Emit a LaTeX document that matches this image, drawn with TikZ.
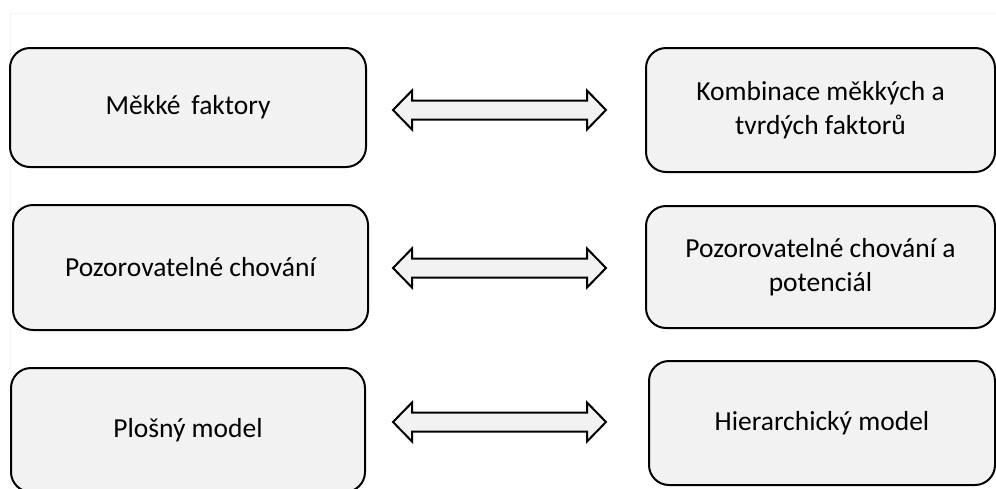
\documentclass[tikz,border=0pt]{standalone}
\usepackage{fontspec}
\setmainfont{Carlito}
\definecolor{boxfill}{HTML}{F2F2F2}
\definecolor{framegray}{HTML}{F4F4F4}
\begin{document}
\begin{tikzpicture}[x=1pt,y=-1pt,
  box/.style={draw=black, line width=2pt, fill=boxfill, rounded corners=20pt,
    align=center, inner sep=0pt, font=\fontsize{27.5}{34}\selectfont},
  arrowshape/.style={draw=black, line width=2pt, fill=boxfill, line join=miter},
  dblarr/.pic={
    \path[arrowshape] (-106.5,0) -- (-87.5,-19.5) -- (-87.5,-9.5) -- (87.5,-9.5)
      -- (87.5,-19.5) -- (106.5,0) -- (87.5,19.5) -- (87.5,9.5) -- (-87.5,9.5)
      -- (-87.5,19.5) -- cycle;
  }
]
\useasboundingbox (0,0) rectangle (996,488);
\draw[framegray, line width=1pt] (10,500) -- (10,13) -- (1010,13);
\node[box, minimum width=356pt, minimum height=119pt] (l1) at (188,107.5) {Měkké\, faktory};
\node[box, minimum width=349pt, minimum height=124pt] (r1) at (820.5,110) {Kombinace měkkých a\\tvrdých faktorů};
\node[box, minimum width=355pt, minimum height=125pt] (l2) at (190.5,267.5) {Pozorovatelné chování};
\node[box, minimum width=349pt, minimum height=122pt] (r2) at (820.5,267) {Pozorovatelné chování a\\potenciál};
\node[box, minimum width=354pt, minimum height=124pt] (l3) at (188,430) {Plošný model};
\node[box, minimum width=346pt, minimum height=124pt] (r3) at (822,423) {Hierarchický model};
\coordinate (a1) at (499.5,110);
\coordinate (a2) at (499.5,268);
\coordinate (a3) at (499.5,422);
\pic at (a1) {dblarr};
\pic at (a2) {dblarr};
\pic at (a3) {dblarr};
\end{tikzpicture}
\end{document}
